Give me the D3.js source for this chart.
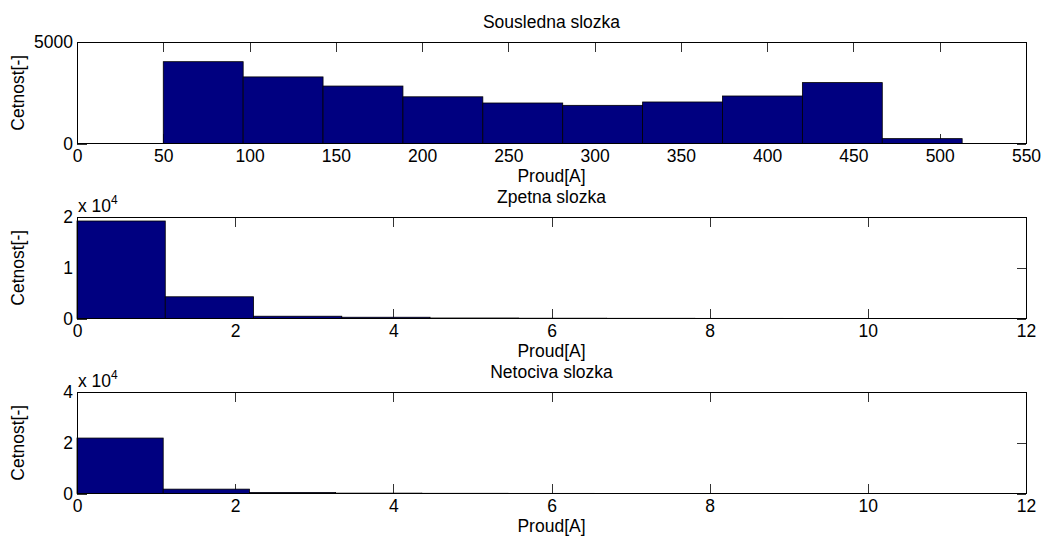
<!DOCTYPE html>
<html>
<head>
<meta charset="utf-8">
<script src="https://cdn.jsdelivr.net/npm/d3@7"></script>
<style>
  body { margin: 0; background: #fff; }
  text { font-family: "Liberation Sans", Arial, sans-serif; }
</style>
</head>
<body>
<div id="chartArea"></div>
<script>
// histogram bin edges [A] and counts per panel
var posEdges = [50, 96.3, 142.6, 188.9, 235.2, 281.5, 327.8, 374.1, 420.4, 466.7, 513.0];
var posCounts = [4030, 3280, 2830, 2300, 1995, 1880, 2045, 2340, 3000, 240];

var negEdges = [0, 1.116, 2.232, 3.348, 4.464, 5.58, 6.696, 7.812, 8.928, 10.044, 11.16];
var negCounts = [19210, 4280, 450, 250, 100, 60, 40, 25, 15, 10];

var zeroEdges = [0, 1.09, 2.18, 3.27, 4.36, 5.45, 6.54, 7.63, 8.72, 9.81, 10.9];
var zeroCounts = [21850, 1720, 400, 150, 80, 50, 30, 20, 10, 5];

var titles = ['Sousledna slozka', 'Zpetna slozka', 'Netociva slozka'];
var xTicksPos = [0, 50, 100, 150, 200, 250, 300, 350, 400, 450, 500, 550];
var xTicksSmall = [0, 2, 4, 6, 8, 10, 12];
var yTicksPos = [0, 5000];
var yTicksNeg = [0, 10000, 20000];
var yTicksZero = [0, 20000, 40000];

var width = 1043, height = 536;
var margin = {left: 77, right: 17};
var panelTop = [42, 217, 392];
var panelH = 101.5;
var tick = 9.5;
var fs = 17.5;

var svg = d3.select('#chartArea').append('svg')
    .attr('width', width)
    .attr('height', height);

function drawPanel(i, edges, counts, xmax, xticks, ymax, yticks, scaled) {
    var top = panelTop[i];
    var x = d3.scaleLinear().domain([0, xmax]).range([margin.left, width - margin.right]);
    var y = d3.scaleLinear().domain([0, ymax]).range([top + panelH, top]);
    var g = svg.append('g');
    var fmt = scaled ? function(d) { return d / 10000; } : function(d) { return d; };

    // ticks (under the bars, like matlab)
    var ax = g.append('g').attr('transform', 'translate(0,' + (top + panelH) + ')')
        .call(d3.axisBottom(x).tickValues(xticks).tickSize(-tick).tickPadding(6.5).tickFormat(d3.format('d')));
    var axT = g.append('g').attr('transform', 'translate(0,' + top + ')')
        .call(d3.axisTop(x).tickValues(xticks).tickSize(-tick).tickFormat(''));
    var ay = g.append('g').attr('transform', 'translate(' + margin.left + ',0)')
        .call(d3.axisLeft(y).tickValues(yticks).tickSize(-tick).tickPadding(4).tickFormat(fmt));
    var ayR = g.append('g').attr('transform', 'translate(' + (width - margin.right) + ',0)')
        .call(d3.axisRight(y).tickValues(yticks).tickSize(-tick).tickFormat(''));
    [ax, axT, ay, ayR].forEach(function(a) {
        a.select('.domain').remove();
        a.selectAll('line').attr('stroke', '#333').attr('shape-rendering', 'crispEdges');
        a.selectAll('text').attr('font-size', fs).attr('fill', '#000')
            .style('font-family', '"Liberation Sans", Arial, sans-serif');
    });

    // bars
    var bins = counts.map(function(c, k) { return {x0: edges[k], x1: edges[k + 1], n: c}; });
    g.append('g').selectAll('rect').data(bins).enter().append('rect')
        .attr('x', function(d) { return x(d.x0); })
        .attr('y', function(d) { return y(d.n); })
        .attr('width', function(d) { return x(d.x1) - x(d.x0); })
        .attr('height', function(d) { return y(0) - y(d.n); })
        .attr('fill', '#000080')
        .attr('stroke', '#000')
        .attr('stroke-width', 0.8);

    // box
    g.append('rect')
        .attr('x', x(0)).attr('y', top)
        .attr('width', x(xmax) - x(0)).attr('height', panelH)
        .attr('fill', 'none').attr('stroke', '#000').attr('stroke-width', 1)
        .attr('shape-rendering', 'crispEdges');

    // title, labels
    g.append('text').attr('x', (x(0) + x(xmax)) / 2).attr('y', top - 14)
        .attr('text-anchor', 'middle').attr('font-size', fs).text(titles[i]);
    g.append('text').attr('x', (x(0) + x(xmax)) / 2).attr('y', top + panelH + 38.5)
        .attr('text-anchor', 'middle').attr('font-size', fs).text('Proud[A]');
    g.append('text')
        .attr('transform', 'translate(24,' + (top + panelH / 2) + ') rotate(-90)')
        .attr('text-anchor', 'middle').attr('font-size', fs).text('Cetnost[-]');

    if (scaled) {
        var t = g.append('text').attr('x', x(0) + 1).attr('y', top - 5).attr('font-size', fs);
        t.append('tspan').text('x 10');
        t.append('tspan').attr('font-size', 12).attr('dy', -8).text('4');
    }
}

drawPanel(0, posEdges, posCounts, 550, xTicksPos, 5000, yTicksPos, false);
drawPanel(1, negEdges, negCounts, 12, xTicksSmall, 20000, yTicksNeg, true);
drawPanel(2, zeroEdges, zeroCounts, 12, xTicksSmall, 40000, yTicksZero, true);
</script>
</body>
</html>
